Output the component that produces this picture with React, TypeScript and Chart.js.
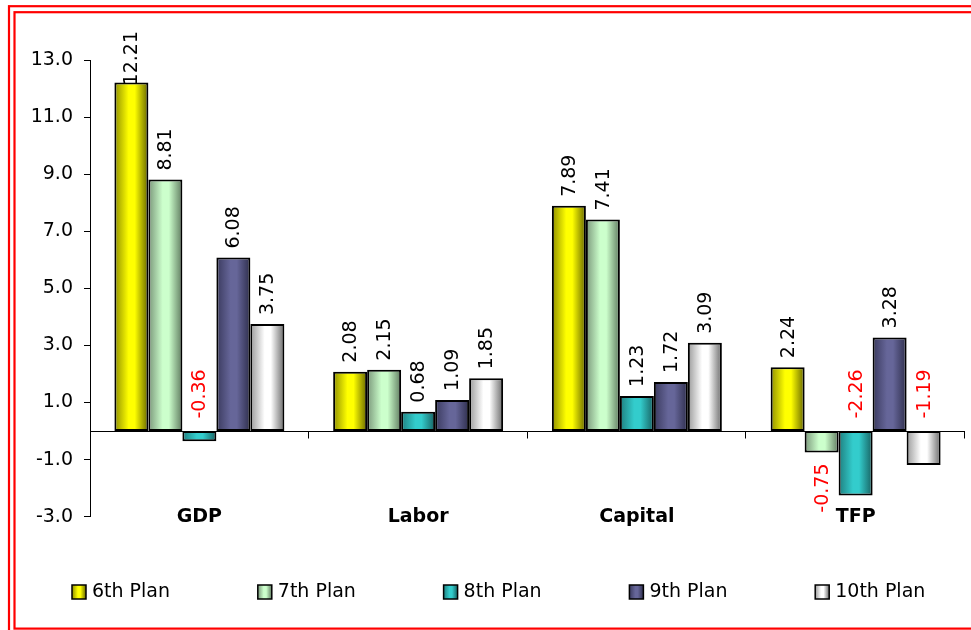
import React, { useEffect, useRef } from "react";
import { Chart, registerables } from "chart.js";

Chart.register(...registerables);

const categories = ["GDP", "Labor", "Capital", "TFP"];
const seriesNames = ["6th Plan", "7th Plan", "8th Plan", "9th Plan", "10th Plan"];
const plan6 = [12.21, 2.08, 7.89, 2.24];
const plan7 = [8.81, 2.15, 7.41, -0.75];
const plan8 = [-0.36, 0.68, 1.23, -2.26];
const plan9 = [6.08, 1.09, 1.72, 3.28];
const plan10 = [3.75, 1.85, 3.09, -1.19];
const seriesValues = [plan6, plan7, plan8, plan9, plan10];
const yMin = -3;
const yMax = 13;
const yStep = 2;

// [light centre, left edge, right edge]
const barShades = [
  ["#FFFF00", "#8F8F00", "#666600"],
  ["#CCFFCC", "#7A977A", "#5F7A5F"],
  ["#33CCCC", "#1F7F7F", "#176060"],
  ["#666699", "#3A3A5E", "#2E2E4C"],
  ["#FFFFFF", "#9A9A9A", "#6A6A6A"],
];

// labels of negative bars that sit above the zero line
const labelsAboveZero = [
  [2, 0],
  [2, 3],
  [4, 3],
];

const FONT = "'DejaVu Sans', Verdana, sans-serif";

function makeGradient(ctx: CanvasRenderingContext2D, left: number, width: number, i: number) {
  const [light, l, r] = barShades[i];
  const g = ctx.createLinearGradient(left, 0, left + width, 0);
  g.addColorStop(0, l);
  g.addColorStop(0.42, light);
  g.addColorStop(0.6, light);
  g.addColorStop(1, r);
  return g;
}

const gradientPlugin = {
  id: "barGradient",
  beforeDatasetsDraw(chart: any) {
    const ctx = chart.ctx;
    chart.data.datasets.forEach((_: any, i: number) => {
      const meta = chart.getDatasetMeta(i);
      meta.data.forEach((el: any) => {
        const { x, width } = el.getProps(["x", "width"], true);
        const left = x - width / 2;
        el.options = Object.assign({}, el.options, {
          backgroundColor: makeGradient(ctx, left, width, i),
        });
      });
    });
  },
};

const framePlugin = {
  id: "frame",
  beforeDraw(chart: any) {
    const ctx = chart.ctx;
    ctx.save();
    ctx.fillStyle = "#fff";
    ctx.fillRect(0, 0, chart.width, chart.height);
    ctx.strokeStyle = "#FF0000";
    ctx.lineWidth = 2.2;
    ctx.strokeRect(9, 6.2, chart.width + 20, chart.height + 20);
    ctx.strokeRect(14.5, 12.2, chart.width + 20, 628.6 - 12.2);
    ctx.restore();
  },
};

const axisPlugin = {
  id: "zeroAxis",
  afterDatasetsDraw(chart: any) {
    const ctx = chart.ctx;
    const { left, right } = chart.chartArea;
    const y0 = Math.round(chart.scales.y.getPixelForValue(0)) + 0.5;
    ctx.save();
    ctx.strokeStyle = "#000";
    ctx.lineWidth = 1;
    ctx.beginPath();
    ctx.moveTo(left, y0);
    ctx.lineTo(right, y0);
    const n = categories.length;
    for (let i = 1; i <= n; i++) {
      const x = Math.round(left + ((right - left) * i) / n) - 0.5;
      ctx.moveTo(x, y0);
      ctx.lineTo(x, y0 + 7);
    }
    ctx.stroke();

    // category labels at the bottom of the plot
    ctx.fillStyle = "#000";
    ctx.font = `bold 19px ${FONT}`;
    ctx.textAlign = "center";
    ctx.textBaseline = "middle";
    const yb = chart.scales.y.getPixelForValue(yMin);
    categories.forEach((c, i) => {
      ctx.fillText(c, chart.scales.x.getPixelForValue(i), yb);
    });

    // value labels
    ctx.font = `19px ${FONT}`;
    ctx.textAlign = "left";
    chart.data.datasets.forEach((ds: any, i: number) => {
      const meta = chart.getDatasetMeta(i);
      meta.data.forEach((el: any, j: number) => {
        const v = ds.data[j];
        const text = v.toFixed(2);
        const w = ctx.measureText(text).width;
        const { x, y } = el.getProps(["x", "y"], true);
        let anchor: number;
        if (v >= 0) {
          anchor = y - 9;
          if (anchor - w < 31) anchor = 31 + w;
        } else if (labelsAboveZero.some(([a, b]) => a === i && b === j)) {
          anchor = y0 - 13;
        } else {
          anchor = y + 11 + w;
        }
        ctx.save();
        ctx.translate(x, anchor);
        ctx.rotate(-Math.PI / 2);
        ctx.fillStyle = v < 0 ? "#FF0000" : "#000";
        ctx.fillText(text, 0, 1);
        ctx.restore();
      });
    });
    ctx.restore();
  },
};

const legendPlugin = {
  id: "customLegend",
  afterDraw(chart: any) {
    const ctx = chart.ctx;
    ctx.save();
    ctx.font = `19px ${FONT}`;
    ctx.textAlign = "left";
    ctx.textBaseline = "middle";
    const yc = 592;
    seriesNames.forEach((name, i) => {
      const bx = 72 + i * 185.8;
      ctx.fillStyle = makeGradient(ctx, bx, 14, i);
      ctx.fillRect(bx, yc - 7, 14, 14);
      ctx.strokeStyle = "#000";
      ctx.lineWidth = 1.5;
      ctx.strokeRect(bx, yc - 7, 14, 14);
      ctx.fillStyle = "#000";
      ctx.fillText(name, bx + 20, yc);
    });
    ctx.restore();
  },
};

export default function App() {
  const ref = useRef<HTMLCanvasElement>(null);
  useEffect(() => {
    if (!ref.current) return;
    const chart = new Chart(ref.current, {
      type: "bar",
      data: {
        labels: categories,
        datasets: seriesValues.map((vals, i) => ({
          label: seriesNames[i],
          data: vals,
          backgroundColor: barShades[i][0],
          borderColor: "#000",
          borderWidth: 2,
          borderSkipped: false,
          categoryPercentage: 0.777,
          barPercentage: 1,
        })),
      },
      options: {
        responsive: false,
        animation: false,
        layout: { padding: { left: 0, right: 6, top: 60, bottom: 113.3 } },
        plugins: {
          legend: { display: false },
          tooltip: { enabled: false },
          title: { display: false },
        },
        scales: {
          x: { type: "category", display: false, offset: true },
          y: {
            min: yMin,
            max: yMax,
            afterFit: (scale: any) => {
              scale.width = 90;
            },
            ticks: {
              stepSize: yStep,
              padding: 11,
              color: "#000",
              font: { family: FONT, size: 19 },
              callback: (v: any) => Number(v).toFixed(1),
            },
            grid: {
              drawOnChartArea: false,
              drawTicks: true,
              tickLength: 6,
              color: "#000",
              lineWidth: 1,
            },
            border: { display: true, color: "#000", width: 1 },
          },
        },
      },
      plugins: [framePlugin, gradientPlugin, axisPlugin, legendPlugin],
    });
    return () => chart.destroy();
  }, []);
  return (
    <div style={{ position: "absolute", left: 0, top: 0, width: 971, height: 630 }}>
      <canvas ref={ref} width={971} height={630} style={{ display: "block" }} />
    </div>
  );
}
